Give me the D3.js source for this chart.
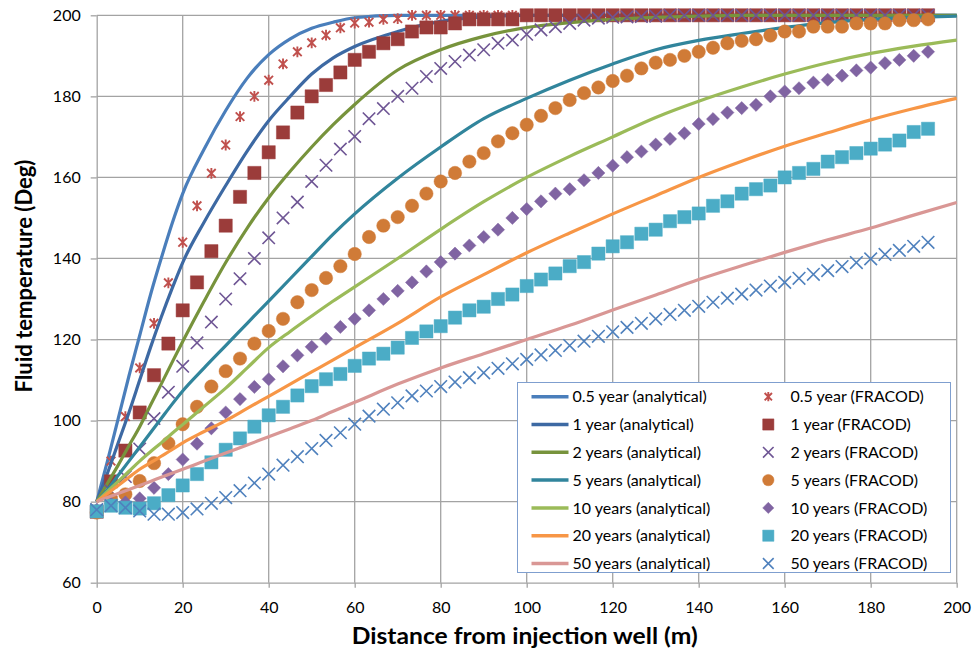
<!DOCTYPE html>
<html>
<head>
<meta charset="utf-8">
<script src="https://cdn.jsdelivr.net/npm/d3@7"></script>
<style>
  body { margin: 0; background: #fff; }
  text { font-family: Lato, "Open Sans", sans-serif; }
</style>
</head>
<body>
<div id="chart"></div>
<script>
// distance of the FRACOD sample points (m)
var fracodX = [0, 3.33, 6.67, 10, 13.33, 16.67, 20, 23.33, 26.67, 30,
  33.33, 36.67, 40, 43.33, 46.67, 50, 53.33, 56.67, 60, 63.33,
  66.67, 70, 73.33, 76.67, 80, 83.33, 86.67, 90, 93.33, 96.67,
  100, 103.33, 106.67, 110, 113.33, 116.67, 120, 123.33, 126.67, 130,
  133.33, 136.67, 140, 143.33, 146.67, 150, 153.33, 156.67, 160, 163.33,
  166.67, 170, 173.33, 176.67, 180, 183.33, 186.67, 190, 193.33];

// distance of the analytical curve points (m)
var analyticX = [0, 2.5, 5, 7.5, 10, 12.5, 15, 17.5, 20, 25, 30, 35, 40, 45, 50, 55, 60,
  70, 80, 90, 100, 110, 120, 130, 140, 150, 160, 170, 180, 190, 200];

// analytical temperatures
var an05 = [80, 90, 100.5, 111, 121, 131, 140, 148.5, 156, 167, 176.5, 184.5, 190.3, 194.2, 196.8, 198.3, 199.4,
  200, 200, 200, 200, 200, 200, 200, 200, 200, 200, 200, 200, 200, 200];
var an1 = [80, 87, 94.5, 102, 110, 118, 125.5, 132.5, 139, 149, 158, 166.5, 174, 180, 185.5, 189.5, 192.3,
  196, 198.5, 199.6, 200, 200, 200, 200, 200, 200, 200, 200, 200, 200, 200];
var an2 = [80, 84.5, 89, 93.8, 98.5, 103.8, 109, 114.3, 119.5, 129.5, 139, 147.5, 155, 161.5, 167.5, 173, 178,
  186.5, 191.5, 194.8, 197, 198.2, 199, 199.5, 199.8, 200, 200, 200, 200, 200, 200];
var an5 = [80, 83, 86.5, 90, 93.5, 97, 100.5, 104, 107.3, 113, 118.5, 124, 129.5, 135, 140.5, 146, 151,
  159.8, 167.5, 174.5, 179.5, 184, 188, 191.5, 193.8, 195.5, 197, 198.2, 199, 199.5, 199.8];
var an10 = [80, 82.5, 85, 87.5, 90, 92.3, 94.5, 96.8, 99, 103.5, 108, 113, 118, 122, 125.8, 129.5, 133,
  140, 147.2, 154, 160, 165.2, 170, 174.8, 178.8, 182.3, 185.5, 188.3, 190.6, 192.4, 193.9];
var an20 = [80, 82, 84, 86, 88, 89.6, 91.2, 92.8, 94.5, 97.3, 100, 103, 106, 109, 112, 115, 118,
  124, 130.5, 136, 141.4, 146.3, 151, 155.5, 160, 164, 167.7, 171, 174.2, 177, 179.5];
var an50 = [80, 81, 82, 83, 84, 85, 86, 87, 88, 90, 92, 94, 96, 98, 100, 102.3, 104.5,
  109, 113, 116.5, 120, 123.5, 127.3, 131, 134.8, 138.2, 141.5, 144.6, 147.5, 150.7, 153.8];

// FRACOD temperatures
var fr05 = [78, 90, 101, 113, 124, 134, 144, 153, 161, 168,
  175, 180, 184, 188, 191, 193.2, 195.1, 196.9, 198.1, 198.3,
  199, 199.2, 200, 200, 200, 200, 200, 200, 200, 200,
  200, 200, 200, 200, 200, 200, 200, 200, 200, 200,
  200, 200, 200, 200, 200, 200, 200, 200, 200, 200,
  200, 200, 200, 200, 200, 200, 200, 200, 200];
var fr1 = [77.5, 85, 92.6, 102, 111.2, 119, 127.2, 134.1, 141.8, 148.1,
  155.2, 161.1, 166.2, 171.1, 176, 180, 182.8, 185.9, 189, 191,
  193.1, 194.1, 196, 197, 197, 198, 199, 199, 199, 199,
  200, 200, 200, 200, 200, 200, 200, 200, 200, 200,
  200, 200, 200, 200, 200, 200, 200, 200, 200, 200,
  200, 200, 200, 200, 200, 200, 200, 200, 200];
var fr2 = [78, 82.6, 86.2, 93, 100.5, 107, 113.4, 119.2, 124.3, 130,
  135, 140, 145.1, 150, 153.9, 159, 163, 167, 170.1, 174.5,
  177, 180, 182, 184.9, 186.9, 188.6, 190.2, 191.5, 193.1, 193.9,
  195.3, 196.4, 197.2, 198, 198.8, 199.3, 199.5, 199.6, 199.7, 199.8,
  200, 200, 200, 200, 200, 200, 200, 200, 200, 200,
  200, 200, 200, 200, 200, 200, 200, 200, 200];
var fr5 = [77.3, 80.6, 81.8, 85.1, 89.5, 94.4, 99.1, 103.4, 108.4, 112.2,
  115.3, 119, 122.1, 125.1, 129.2, 132.2, 135.2, 138.1, 141.1, 145.3,
  148.1, 150.2, 153, 156, 159, 161.1, 163.9, 166, 168.9, 170.9,
  173, 175.2, 177.1, 179.1, 180.8, 182.2, 183.8, 185.1, 186.9, 188.3,
  189, 190, 191, 192, 193.1, 193.7, 194.1, 195, 196, 196,
  197.2, 197.2, 197.2, 198, 198, 198, 198.8, 198.8, 199];
var fr10 = [78, 79.5, 79.8, 80.8, 83.4, 86.8, 90.4, 94.3, 98.1, 102,
  105.3, 108.3, 110.2, 113.4, 116.1, 118.2, 120.2, 123.1, 125.1, 127.2,
  130, 132, 134.1, 136.8, 139.1, 141.2, 143.2, 145.3, 147.1, 150,
  152.2, 154.1, 156, 157.1, 159.3, 161.1, 162.9, 165, 166.4, 168.1,
  169.5, 170.9, 173.2, 174.4, 176, 177.1, 177.9, 180, 181.2, 182,
  183.4, 184.1, 185.1, 186.4, 187.1, 188.2, 189, 190, 191];
var fr20 = [77.6, 79, 78.5, 78.3, 79.6, 81.6, 84, 86.8, 89.7, 92.8,
  95.6, 98.5, 101.3, 103.4, 106.2, 108.5, 110.2, 111.5, 113.5, 115.3,
  116.5, 118, 120.4, 122, 123.3, 125.4, 127.2, 128.1, 130, 131.1,
  133.2, 134.8, 136.3, 138.1, 139.1, 141.2, 143, 144, 146.1, 147.1,
  149.2, 150.2, 151.1, 153, 154.1, 156, 157.1, 158, 160, 161.1,
  162.1, 163.9, 165, 166, 167.1, 168.1, 169.1, 171.2, 172];
var fr50 = [78, 79, 78.5, 77.7, 76.9, 76.9, 77.3, 78.2, 79.6, 81,
  82.7, 84.6, 86.8, 89, 91.1, 93.1, 95.1, 97, 99.1, 101.1,
  102.8, 104.4, 106.1, 107.3, 108.4, 109.5, 110.6, 111.8, 112.9, 114,
  115.1, 116.2, 117.3, 118.5, 119.6, 120.8, 121.9, 123, 124, 125.1,
  126.2, 127.2, 128.2, 129.2, 130.2, 131.2, 132.2, 133.2, 134.1, 135.1,
  136.1, 137, 138, 139, 139.9, 141, 142, 143, 144];

var analyticLabels = ["0.5 year (analytical)", "1 year (analytical)", "2 years (analytical)",
  "5 years (analytical)", "10 years (analytical)", "20 years (analytical)", "50 years (analytical)"];
var fracodLabels = ["0.5 year (FRACOD)", "1 year (FRACOD)", "2 years (FRACOD)",
  "5 years (FRACOD)", "10 years (FRACOD)", "20 years (FRACOD)", "50 years (FRACOD)"];

var xTicks = [0, 20, 40, 60, 80, 100, 120, 140, 160, 180, 200];
var yTicks = [60, 80, 100, 120, 140, 160, 180, 200];

// styles
var lineColors = ["#4a7ebb", "#3d69a3", "#77933c", "#31859c", "#9bbb59", "#f79646", "#d99795"];
var markColors = ["#c0504d", "#9b3c3a", "#6e5594", "#d07b37", "#8064a2", "#4bacc6", "#4f81bd"];
var markKinds = ["star", "square", "x", "circle", "diamond", "square", "x"];
var markSizes = [5.4, 6.6, 6.2, 6.7, 6.6, 6.6, 6.3];

var analytic = [an05, an1, an2, an5, an10, an20, an50];
var fracod = [fr05, fr1, fr2, fr5, fr10, fr20, fr50];

var width = 973, height = 655;
var plot = {left: 96.7, right: 956.7, top: 15.3, bottom: 582.7};

var svg = d3.select("#chart").append("svg")
    .attr("width", width)
    .attr("height", height);

var x = d3.scaleLinear().domain([0, 200]).range([plot.left, plot.right]);
var y = d3.scaleLinear().domain([60, 200]).range([plot.bottom, plot.top]);

// grid
var grid = svg.append("g");
grid.selectAll("line.v")
  .data(xTicks.slice(1))
  .enter().append("line")
    .attr("x1", function(d) { return x(d); })
    .attr("x2", function(d) { return x(d); })
    .attr("y1", plot.top)
    .attr("y2", plot.bottom)
    .attr("stroke", "#a3a3a3")
    .attr("stroke-width", 1.3);
grid.selectAll("line.h")
  .data(yTicks.slice(1))
  .enter().append("line")
    .attr("x1", plot.left)
    .attr("x2", plot.right)
    .attr("y1", function(d) { return y(d); })
    .attr("y2", function(d) { return y(d); })
    .attr("stroke", "#a3a3a3")
    .attr("stroke-width", 1.3);

// axes
var xAxis = svg.append("g")
  .attr("transform", "translate(0," + plot.bottom + ")")
  .call(d3.axisBottom(x).tickValues(xTicks).tickSize(5).tickPadding(13.5).tickSizeOuter(0));
var yAxis = svg.append("g")
  .attr("transform", "translate(" + plot.left + ",0)")
  .call(d3.axisLeft(y).tickValues(yTicks).tickSize(6).tickPadding(10).tickSizeOuter(0));
[xAxis, yAxis].forEach(function(a) {
  a.select(".domain").attr("stroke", "#a3a3a3").attr("stroke-width", 1.3);
  a.selectAll(".tick line").attr("stroke", "#a3a3a3").attr("stroke-width", 1.3);
  a.selectAll(".tick text")
    .style("font-family", "Lato, sans-serif")
    .style("font-size", "16px")
    .attr("fill", "#000");
});

// axis titles
svg.append("text")
  .attr("x", (plot.left + plot.right) / 2 - 2)
  .attr("y", 644)
  .attr("text-anchor", "middle")
  .attr("textLength", 346)
  .attr("lengthAdjust", "spacingAndGlyphs")
  .style("font-size", "22px")
  .style("font-weight", "bold")
  .text("Distance from injection well (m)");

svg.append("text")
  .attr("transform", "translate(32,276) rotate(-90)")
  .attr("text-anchor", "middle")
  .style("font-size", "22px")
  .style("font-weight", "bold")
  .text("Fluid temperature (Deg)");

// marker shapes
function markPath(kind, s) {
  var p = d3.path();
  if (kind === "x" || kind === "star") {
    var a = kind === "star" ? s * 0.8 : s;
    p.moveTo(-a, -a); p.lineTo(a, a);
    p.moveTo(-a, a); p.lineTo(a, -a);
    if (kind === "star") { p.moveTo(0, -s); p.lineTo(0, s); }
  } else if (kind === "square") {
    p.rect(-s, -s, 2 * s, 2 * s);
  } else if (kind === "diamond") {
    p.moveTo(0, -s); p.lineTo(s, 0); p.lineTo(0, s); p.lineTo(-s, 0); p.closePath();
  } else {
    p.moveTo(s, 0); p.arc(0, 0, s, 0, 2 * Math.PI);
  }
  return p.toString();
}
function styleMark(sel, i) {
  var stroked = markKinds[i] === "x" || markKinds[i] === "star";
  sel.attr("fill", stroked ? "none" : markColors[i])
    .attr("stroke", markColors[i])
    .attr("stroke-width", stroked ? (markKinds[i] === "star" ? 1.9 : 1.6) : 0.8)
    .attr("stroke-opacity", stroked ? 1 : 0.6);
}

var line = d3.line()
  .x(function(d) { return x(d[0]); })
  .y(function(d) { return y(d[1]); })
  .curve(d3.curveMonotoneX);

var series = svg.append("g");
analytic.forEach(function(vals, i) {
  series.append("path")
    .datum(vals.map(function(v, k) { return [analyticX[k], v]; }))
    .attr("d", line)
    .attr("fill", "none")
    .attr("stroke", lineColors[i])
    .attr("stroke-width", 3.2)
    .attr("stroke-linejoin", "round");

  var pts = fracod[i].map(function(v, k) { return [fracodX[k], v]; });
  series.append("g").selectAll("path")
    .data(pts)
    .enter().append("path")
      .attr("transform", function(d) { return "translate(" + x(d[0]) + "," + y(d[1]) + ")"; })
      .attr("d", markPath(markKinds[i], markSizes[i]))
      .call(styleMark, i);
});

// legend
var lg = svg.append("g");
lg.append("rect")
  .attr("x", 517.5).attr("y", 382.5)
  .attr("width", 433).attr("height", 190)
  .attr("fill", "#fff")
  .attr("stroke", "#7f9fcf")
  .attr("stroke-width", 1);

var rowY = d3.scaleLinear().domain([0, 6]).range([396.7, 563.5]);
analyticLabels.forEach(function(lab, i) {
  var yy = rowY(i);
  lg.append("line")
    .attr("x1", 531.5).attr("x2", 568.5)
    .attr("y1", yy).attr("y2", yy)
    .attr("stroke", lineColors[i])
    .attr("stroke-width", 3.5);
  lg.append("text")
    .attr("x", 572.5).attr("y", yy).attr("dy", "0.35em")
    .style("font-size", "16px")
    .text(lab);
  lg.append("path")
    .attr("transform", "translate(768.3," + yy + ")")
    .attr("d", markPath(markKinds[i], markSizes[i] * 0.85))
    .call(styleMark, i);
  lg.append("text")
    .attr("x", 790.5).attr("y", yy).attr("dy", "0.35em")
    .style("font-size", "16px")
    .text(fracodLabels[i]);
});
</script>
</body>
</html>
